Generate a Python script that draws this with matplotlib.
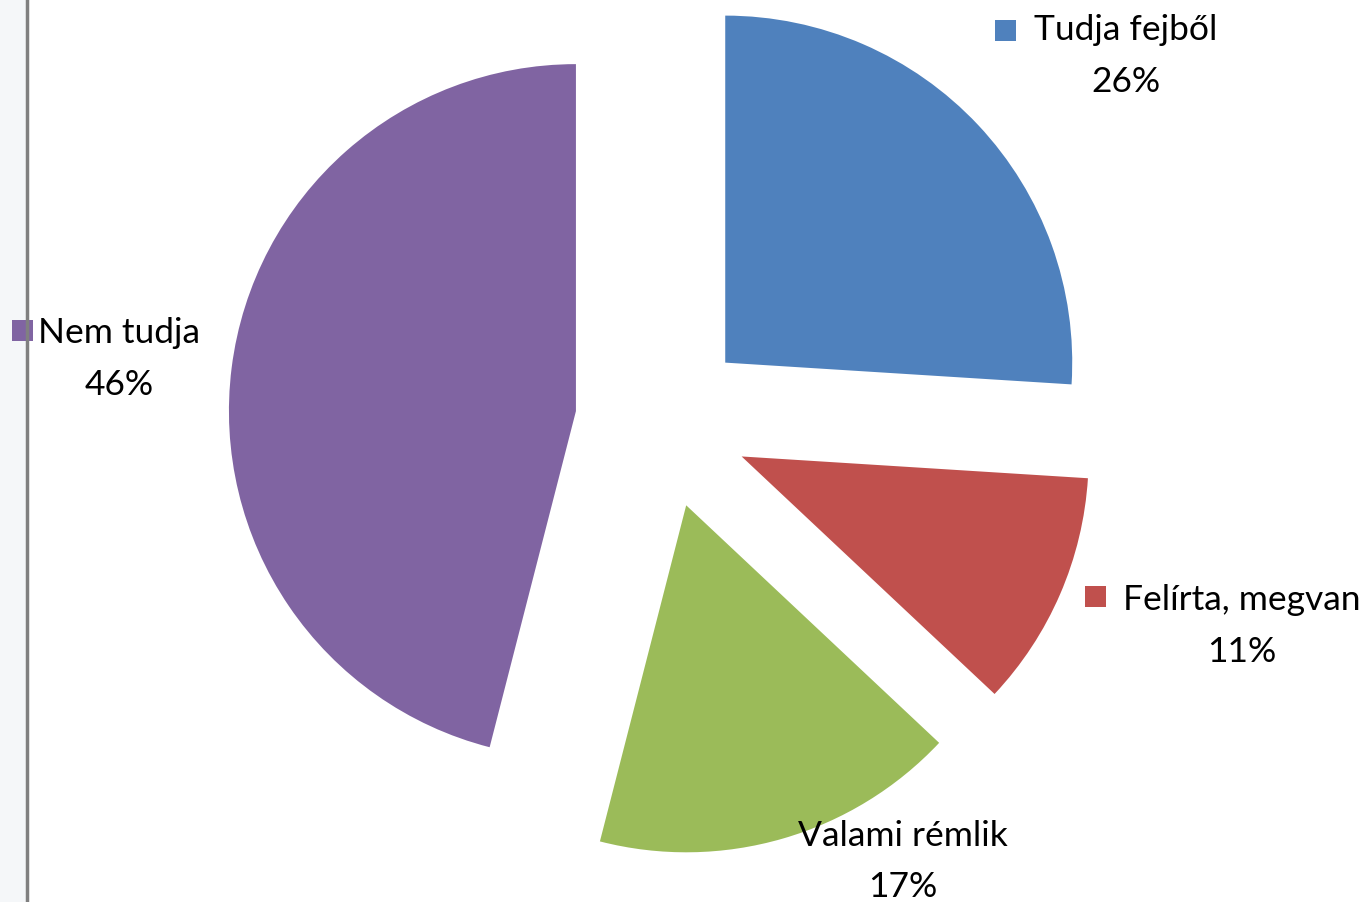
import matplotlib.pyplot as plt
from matplotlib.patches import Rectangle

# data
labels = ['Tudja fejből', 'Felírta, megvan', 'Valami rémlik', 'Nem tudja']
shares = [26, 11, 17, 46]
colors = ['#4f81bd', '#c0504d', '#9bbb59', '#8064a2']

W, H = 1372, 902
fig = plt.figure(figsize=(W / 100, H / 100), dpi=100)
plt.rcParams['font.family'] = ['Lato', 'DejaVu Sans']

# pie centre (px) and radius (px)
cx, cy, r = 662, 422, 347
ax = fig.add_axes([0, 0, 1, 1])
ax.pie(shares, colors=colors, startangle=90, counterclock=False,
       explode=[0.25] * 4, radius=1, wedgeprops=dict(linewidth=0))
ax.set_xlim(-cx / r, (W - cx) / r)
ax.set_ylim(-(H - cy) / r, cy / r)
ax.set_aspect('auto')
ax.axis('off')

# grey strip on the left (cropped chart frame)
fig.patches.append(Rectangle((0, 0), 26 / W, 1, transform=fig.transFigure,
                             facecolor='#f5f7f9', edgecolor='none', zorder=0))

# label positions in pixels: text centre x, name baseline, pct baseline, marker box
label_pos = [
    (1126, 40, 92, (995, 20)),
    (1242, 610, 662, (1085, 586)),
    (903, 846, 897, None),
    (119, 343, 395, (12, 320)),
]
for name, val, col, (tx, by1, by2, mk) in zip(labels, shares, colors, label_pos):
    fig.text(tx / W, 1 - by1 / H, name, ha='center', va='baseline',
             fontsize=25.5, color='black')
    fig.text(tx / W, 1 - by2 / H, f'{val}%', ha='center', va='baseline',
             fontsize=25.5, color='black')
    if mk is not None:
        fig.patches.append(Rectangle((mk[0] / W, 1 - (mk[1] + 21) / H), 21 / W, 21 / H,
                                     transform=fig.transFigure, facecolor=col,
                                     edgecolor='none', zorder=1))

fig.add_artist(plt.Line2D([27 / W, 27 / W], [0, 1], color='#808080', linewidth=2.5,
                          transform=fig.transFigure, zorder=3))

fig.savefig('out.png', dpi=100)
